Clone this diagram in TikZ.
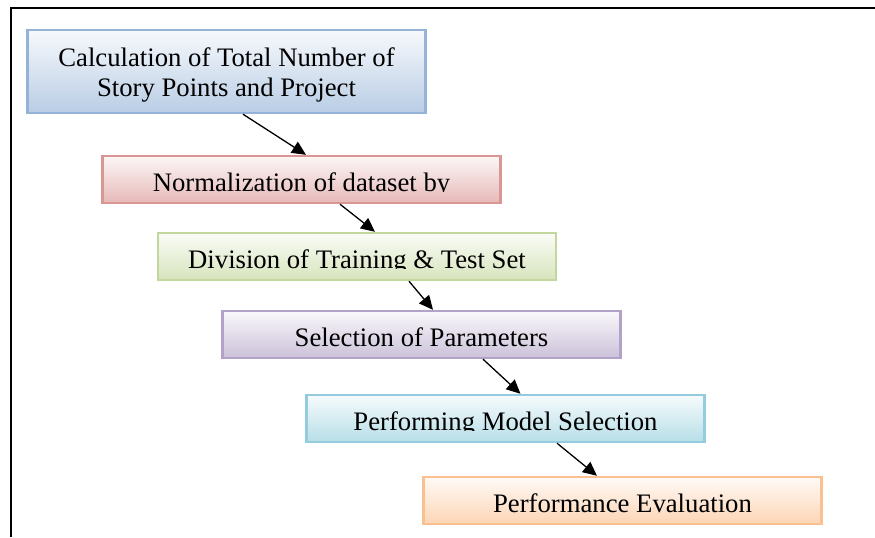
\documentclass[tikz,border=0pt]{standalone}
\usepackage{fontspec}
\setmainfont{Liberation Serif}
\usepackage{trimclip}
\usetikzlibrary{arrows.meta,calc}
\definecolor{fcblue}{RGB}{185,205,229}
\definecolor{fcblueln}{RGB}{149,179,215}
\definecolor{fcred}{RGB}{230,185,184}
\definecolor{fcredln}{RGB}{217,150,148}
\definecolor{fcgreen}{RGB}{215,228,189}
\definecolor{fcgreenln}{RGB}{195,214,155}
\definecolor{fcpurple}{RGB}{204,193,218}
\definecolor{fcpurpleln}{RGB}{179,162,199}
\definecolor{fccyan}{RGB}{183,222,232}
\definecolor{fccyanln}{RGB}{147,205,221}
\definecolor{fcorange}{RGB}{252,213,181}
\definecolor{fcorangeln}{RGB}{250,192,144}
% overflowing text in the boxes is cut at the baseline
\newcommand{\cutlow}[1]{\clipbox{0pt \depth{} 0pt 0pt}{#1}}

\begin{document}
\begin{tikzpicture}[
  x=0.5pt,y=-0.5pt,
  font=\fontsize{13.35}{15}\selectfont,
  stage/.style={line width=1.2pt,minimum width=199pt,minimum height=23.5pt,
                inner sep=0pt,text height=11.5pt,text depth=0pt},
  tint/.style={stage,draw=#1ln,top color=#1!12,bottom color=#1},
  arr/.style={-{Triangle[length=7pt,width=6.5pt]},line width=0.65pt}
]
  \useasboundingbox (0,0) rectangle (875,537);
  \draw[line width=1.3pt] (11,537) -- (11,8) -- (875,8);

  \node[tint=fcblue,minimum height=41.5pt,align=center,text height=26pt,text depth=1.5pt]
    (calc) at (226.5,71.5) {Calculation of Total Number of\\Story Points and Project};
  \node[tint=fcred] (norm) at (301.5,179.5) {\cutlow{Normalization of dataset by}};
  \node[tint=fcgreen] (split) at (357,256.5) {\cutlow{Division of Training \& Test Set}};
  \node[tint=fcpurple] (param) at (421.5,334.5) {\cutlow{Selection of Parameters}};
  \node[tint=fccyan] (model) at (505.5,418.5) {\cutlow{Performing Model Selection}};
  \node[tint=fcorange] (evalu) at (622.5,500.5) {\cutlow{Performance Evaluation}};

  \draw[arr] ($(calc.south)+(16.5,0)$) -- ($(norm.north)+(4.5,0)$);
  \draw[arr] ($(norm.south)+(38.5,0)$) -- ($(split.north)+(18,0)$);
  \draw[arr] ($(split.south)+(52,0)$) -- ($(param.north)+(11.5,0)$);
  \draw[arr] ($(param.south)+(61.5,0)$) -- ($(model.north)+(15,0)$);
  \draw[arr] ($(model.south)+(51.5,0)$) -- ($(evalu.north)+(-25.5,0)$);
\end{tikzpicture}
\end{document}
